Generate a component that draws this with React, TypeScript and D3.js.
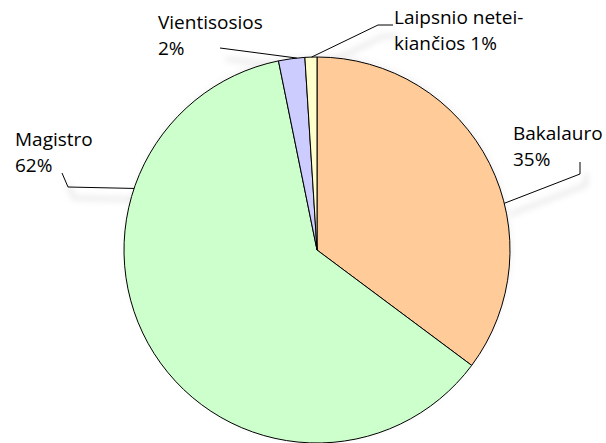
import React from 'react';
import * as d3 from 'd3';

// degree levels, share of students (%)
const categories = ['Bakalauro', 'Magistro', 'Vientisosios', 'Laipsnio neteikiančios'];
const shares = [35.2, 61.6, 2.2, 1.0];
const labelLines = [
  ['Bakalauro', '35%'],
  ['Magistro', '62%'],
  ['Vientisosios', '2%'],
  ['Laipsnio netei-', 'kiančios 1%'],
];
const colors = ['#FFCC99', '#CCFFCC', '#CCCCFF', '#FFFFCC'];

const width = 606;
const height = 443;
const cx = 317;
const cy = 250;
const radius = 193;
const font = '"Open Sans", "DejaVu Sans", sans-serif';

// label placement: text origin, elbow points, and where the leader touches the rim (deg)
const labelLayout = [
  { x: 513, y: 140, elbow: [[580, 162], [580, 174]], rim: 76 },
  { x: 15, y: 146, elbow: [[62, 173], [68, 187]], rim: 288.6 },
  { x: 158, y: 29, elbow: [[220, 48]], rim: 354 },
  { x: 394, y: 24, elbow: [[393, 25], [378, 25]], rim: 358.4 },
];

const App = () => {
  const pie = d3.pie<number>().sort(null).value(d => d);
  const arcs = pie(shares);
  const arc = d3.arc<d3.PieArcDatum<number>>().innerRadius(0).outerRadius(radius);
  const line = d3.line();

  const rimPoint = (deg: number): [number, number] => {
    const a = (deg * Math.PI) / 180;
    return [cx + radius * Math.sin(a), cy - radius * Math.cos(a)];
  };

  const leaders = labelLayout.map(l => line([...l.elbow as [number, number][], rimPoint(l.rim)]) || '');

  return (
    <svg width={width} height={height} style={{ position: 'absolute', left: 0, top: 0 }}>
      <defs>
        <filter id="soft" x="-20%" y="-20%" width="140%" height="160%">
          <feGaussianBlur stdDeviation="3" />
        </filter>
      </defs>
      <rect width={width} height={height} fill="#fff" />
      {/* shadows */}
      <g transform="translate(6,11)" filter="url(#soft)" opacity={0.3}>
        {leaders.map((d, i) => (
          <path key={i} d={d} fill="none" stroke="#999" strokeWidth={3} />
        ))}
      </g>
      <circle cx={cx + 1} cy={cy - 2} r={radius} fill="#e4e4e4" filter="url(#soft)" opacity={0.5} />
      <g transform={`translate(${cx},${cy})`}>
        {arcs.map((a, i) => (
          <path key={categories[i]} d={arc(a) || ''} fill={colors[i]} stroke="#000" strokeWidth={1} />
        ))}
      </g>
      {leaders.map((d, i) => (
        <path key={i} d={d} fill="none" stroke="#000" strokeWidth={1} />
      ))}
      {labelLayout.map((l, i) => (
        <text key={i} x={l.x} y={l.y} fontFamily={font} fontSize={19} fill="#000">
          {labelLines[i].map((t, j) => (
            <tspan key={j} x={l.x} dy={j === 0 ? 0 : 26}>{t}</tspan>
          ))}
        </text>
      ))}
    </svg>
  );
};

export default App;
